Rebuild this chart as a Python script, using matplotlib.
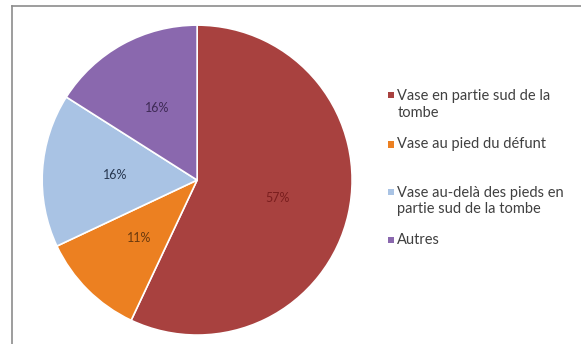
import matplotlib.pyplot as plt
from matplotlib.lines import Line2D
from matplotlib.patches import Rectangle

plt.rcParams['font.family'] = ['Lato', 'DejaVu Sans']

# Répartition des vases
labels = ['Vase en partie sud de la\ntombe',
          'Vase au pied du défunt',
          'Vase au-delà des pieds en\npartie sud de la tombe',
          'Autres']
shares = [57, 11, 16, 16]
colors = ['#A8413F', '#EC8021', '#A9C3E4', '#8A68AE']
pct_colors = ['#7A1E1E', '#6B3A0E', '#26364F', '#3E2A55']
legend_y = [0.697, 0.580, 0.416, 0.302]

fig = plt.figure(figsize=(5.81, 3.44), dpi=100)
ax = fig.add_axes([0.0723, 0.026, 0.534, 0.901])

wedges, texts, autotexts = ax.pie(
    shares, colors=colors, startangle=90, counterclock=False,
    autopct='%d%%', pctdistance=0.53,
    wedgeprops=dict(edgecolor='white', linewidth=1.2),
    textprops=dict(fontsize=9))
for t, c in zip(autotexts, pct_colors):
    t.set_color(c)
ax.set_xlim(-1, 1)
ax.set_ylim(-1, 1)
ax.set_aspect('equal')

# légende à droite, carré aligné sur la première ligne
for lab, col, y in zip(labels, colors, legend_y):
    sq_y = y + 0.018 if '\n' in lab else y - 0.009
    fig.patches.append(Rectangle((0.667, sq_y), 0.011, 0.018,
                                 transform=fig.transFigure,
                                 facecolor=col, edgecolor='none'))
    fig.text(0.684, y, lab, fontsize=10.5, color='#404040', va='center',
             linespacing=1.25)

# cadre
fig.add_artist(Line2D([0.021, 1.0], [0.983, 0.983], color='#8C8C8C', lw=1.2))
fig.add_artist(Line2D([0.021, 0.021], [0.0, 0.983], color='#8C8C8C', lw=1.2))

fig.savefig('out.png', dpi=100, facecolor='white')
